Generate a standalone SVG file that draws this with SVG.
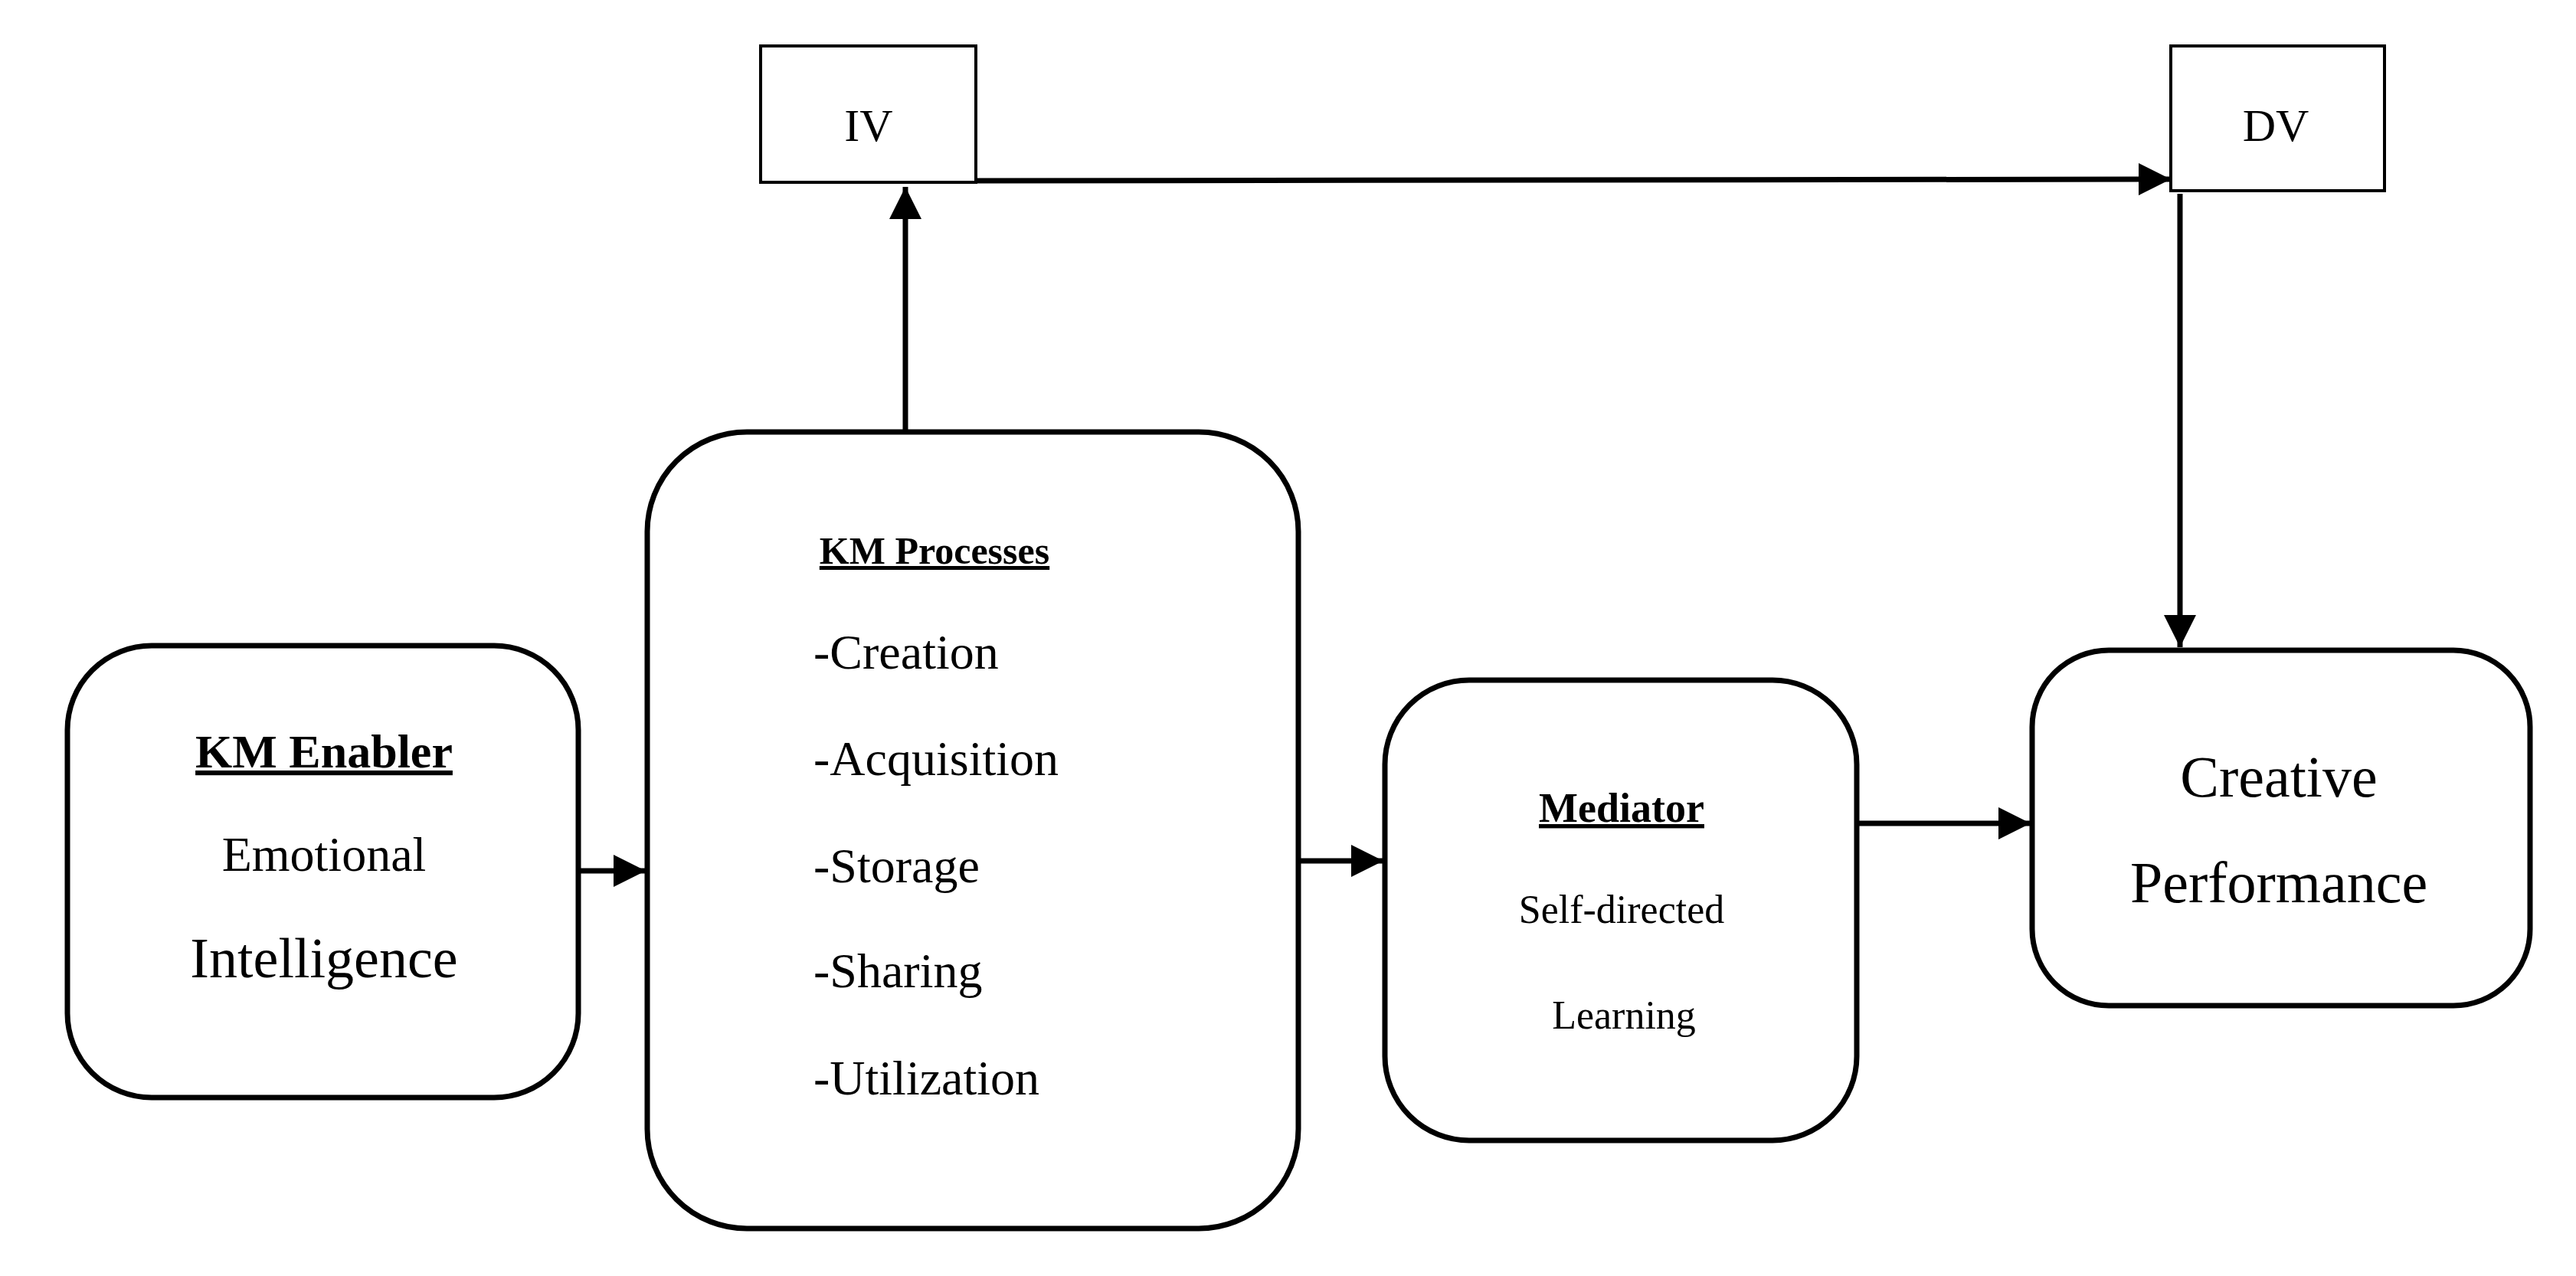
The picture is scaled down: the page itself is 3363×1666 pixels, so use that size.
<svg xmlns="http://www.w3.org/2000/svg" width="3363" height="1666" viewBox="0 0 3363 1666">
<style>
.b{fill:#fff;stroke:#000;stroke-width:7}
.c{stroke:#000;stroke-width:7;fill:none}
text{font-family:"Liberation Serif","Times New Roman",serif;fill:#000}
.m{text-anchor:middle}
.u{text-decoration:underline;font-weight:bold}
</style>
<defs>
<marker id="a" viewBox="0 0 10 10" refX="10" refY="5" markerWidth="6" markerHeight="6" markerUnits="strokeWidth" orient="auto"><path d="M0,0L10,5L0,10z" fill="#000"/></marker>
</defs>
<rect width="3363" height="1666" fill="#fff"/>
<g id="connectors">
<line class="c" x1="1274" y1="236" x2="2834" y2="234" marker-end="url(#a)"/>
<line class="c" x1="1182" y1="564" x2="1182" y2="244" marker-end="url(#a)"/>
<line class="c" x1="2846" y1="253" x2="2846" y2="845" marker-end="url(#a)"/>
<line class="c" x1="755" y1="1137" x2="843" y2="1137" marker-end="url(#a)"/>
<line class="c" x1="1695" y1="1124" x2="1806" y2="1124" marker-end="url(#a)"/>
<line class="c" x1="2424" y1="1075" x2="2651" y2="1075" marker-end="url(#a)"/>
</g>
<g id="iv"><rect class="b" x="993" y="60" width="281" height="178" style="stroke-width:4"/><text class="m" x="1134" y="184" font-size="60">IV</text></g>
<g id="dv"><rect class="b" x="2834" y="60" width="279" height="189" style="stroke-width:4"/><text class="m" x="2971" y="184" font-size="60">DV</text></g>
<g id="enabler"><rect class="b" x="88" y="843" width="667" height="590" rx="110"/>
<text class="m u" x="423" y="1002" font-size="62">KM Enabler</text>
<text class="m" x="423" y="1137" font-size="64">Emotional</text>
<text class="m" x="423" y="1276" font-size="74">Intelligence</text></g>
<g id="processes"><rect class="b" x="845" y="564" width="850" height="1040" rx="130"/>
<text class="m u" x="1220" y="736" font-size="50">KM Processes</text>
<text x="1062" y="873" font-size="64">-Creation</text>
<text x="1062" y="1012" font-size="64">-Acquisition</text>
<text x="1062" y="1152" font-size="64">-Storage</text>
<text x="1062" y="1289" font-size="64">-Sharing</text>
<text x="1062" y="1429" font-size="64">-Utilization</text></g>
<g id="mediator"><rect class="b" x="1808" y="888" width="616" height="601" rx="110"/>
<text class="m u" x="2117" y="1073" font-size="54">Mediator</text>
<text class="m" x="2117" y="1205" font-size="52">Self-directed</text>
<text class="m" x="2120" y="1343" font-size="52">Learning</text></g>
<g id="creative"><rect class="b" x="2653" y="849" width="650" height="464" rx="100"/>
<text class="m" x="2975" y="1040" font-size="76">Creative</text>
<text class="m" x="2975" y="1178" font-size="76">Performance</text></g>
</svg>
